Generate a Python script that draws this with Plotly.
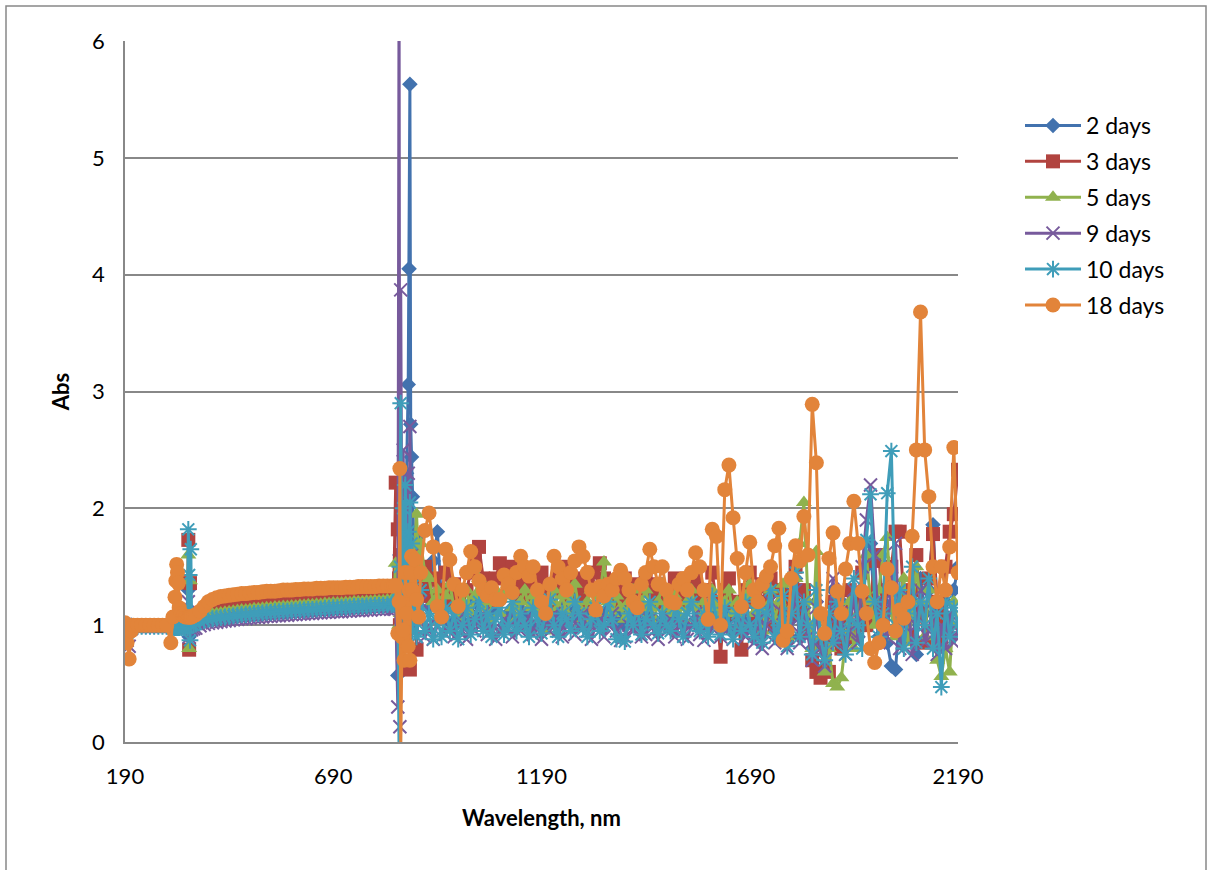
import plotly.graph_objects as go

# ---------------- wavelength grid (nm) ----------------
wl_uv = [190, 195, 200, 205, 210, 220, 230, 240, 250, 260, 270, 280, 290, 300]
wl_edge = [305, 310, 312, 314, 316, 318, 320, 325, 330, 335, 340, 342, 344, 346, 348, 350, 355]
wl_vis = [360, 370, 380, 390, 400, 410, 420, 430, 440, 450, 460, 470, 480, 490, 500, 510,
          520, 530, 540, 550, 560, 570, 580, 590, 600, 610, 620, 630, 640, 650, 660, 670,
          680, 690, 700, 710, 720, 730, 740, 750, 760, 770, 780, 790, 800, 810, 820]
wl_jump = [830, 835, 840, 845, 848, 850, 852, 855, 858, 860, 863, 866, 870, 872, 874, 876,
           878, 880, 885, 890, 895]
wl_nir = [900, 910, 920, 930, 940, 950, 960, 970, 980, 990,
          1000, 1010, 1020, 1030, 1040, 1050, 1060, 1070, 1080, 1090,
          1100, 1110, 1120, 1130, 1140, 1150, 1160, 1170, 1180, 1190,
          1200, 1210, 1220, 1230, 1240, 1250, 1260, 1270, 1280, 1290,
          1300, 1310, 1320, 1330, 1340, 1350, 1360, 1370, 1380, 1390,
          1400, 1410, 1420, 1430, 1440, 1450, 1460, 1470, 1480, 1490,
          1500, 1510, 1520, 1530, 1540, 1550, 1560, 1570, 1580, 1590,
          1600, 1610, 1620, 1630, 1640, 1650, 1660, 1670, 1680, 1690,
          1700, 1710, 1720, 1730, 1740, 1750, 1760, 1770, 1780, 1790,
          1800, 1810, 1820, 1830, 1840, 1850, 1860, 1870, 1880, 1890,
          1900, 1910, 1920, 1930, 1940, 1950, 1960, 1970, 1980, 1990,
          2000, 2010, 2020, 2030, 2040, 2050, 2060, 2070, 2080, 2090,
          2100, 2110, 2120, 2130, 2140, 2150, 2160, 2170, 2180, 2190]
wavelength = wl_uv + wl_edge + wl_vis + wl_jump + wl_nir

# ---------------- absorbance values ----------------
abs_2days = (
    [0.95, 0.9, 0.98, 1.0, 0.99, 0.99, 0.99, 0.99, 0.99, 0.99, 0.99, 0.99, 0.99, 0.99]
    + [0.98, 0.98, 0.98, 0.98, 0.98, 0.98, 0.98, 0.98, 0.98, 0.98, 0.98, 1.3, 0.9, 1.1, 0.99, 0.99, 0.99]
    + [1.0, 1.02, 1.03, 1.04, 1.045, 1.05, 1.055, 1.06, 1.065, 1.07, 1.075, 1.08, 1.08, 1.085, 1.09, 1.09,
       1.095, 1.10, 1.10, 1.105, 1.105, 1.11, 1.11, 1.115, 1.115, 1.12, 1.12, 1.125, 1.125, 1.13, 1.13, 1.135,
       1.135, 1.14, 1.14, 1.14, 1.145, 1.145, 1.15, 1.15, 1.15, 1.155, 1.155, 1.16, 1.16, 1.16, 1.165]
    + [1.165, 1.17, 1.17, 0.57, 1.3, 1.6, 1.25, 2.0, 1.4, 1.8, 1.2, 2.3, 3.06, 4.05, 5.63, 2.72,
       2.44, 2.1, 1.5, 1.75, 1.3]
    + [1.5, 1.3, 1.15, 1.55, 1.8, 1.2, 1.05, 1.2, 1.0, 1.1,
       1.15, 1.0, 1.1, 1.2, 1.05, 1.0, 1.15, 1.05, 1.1, 1.2,
       1.0, 1.1, 1.15, 1.05, 1.2, 1.1, 1.0, 1.15, 1.1, 1.0,
       1.05, 1.2, 1.1, 1.0, 1.15, 1.05, 1.1, 1.2, 1.05, 1.0,
       1.1, 1.15, 1.05, 1.0, 1.1, 1.2, 1.05, 1.0, 1.1, 1.0,
       1.15, 1.05, 1.2, 1.0, 1.1, 1.15, 1.05, 1.0, 1.15, 1.05,
       1.1, 1.2, 1.05, 1.0, 1.15, 1.2, 1.05, 1.0, 1.1, 0.98,
       1.2, 1.1, 1.0, 1.15, 1.05, 0.95, 1.1, 1.0, 1.2, 1.05,
       0.95, 1.2, 0.9, 1.05, 1.3, 0.95, 1.1, 1.3, 0.85, 1.05,
       1.4, 0.9, 1.15, 1.0, 0.8, 1.2, 0.85, 0.75, 1.05, 1.3,
       0.9, 1.2, 0.85, 1.0, 1.25, 0.9, 1.2, 1.5, 1.7, 1.1,
       0.9, 1.2, 0.85, 0.65, 0.62, 1.1, 1.3, 0.9, 1.2, 0.75,
       1.4, 1.1, 1.3, 1.86, 1.1, 0.85, 1.2, 1.0, 1.3, 1.5]
)

abs_3days = (
    [1.0, 0.95, 0.99, 1.0, 1.0, 1.0, 1.0, 1.0, 1.0, 1.0, 1.0, 1.0, 1.0, 1.0]
    + [1.0, 1.0, 1.0, 1.0, 1.0, 1.0, 1.0, 1.0, 1.0, 1.0, 1.0, 1.73, 0.79, 1.36, 1.05, 1.05, 1.06]
    + [1.08, 1.10, 1.11, 1.12, 1.125, 1.13, 1.135, 1.14, 1.145, 1.15, 1.155, 1.16, 1.16, 1.165, 1.17, 1.17,
       1.175, 1.18, 1.18, 1.185, 1.185, 1.19, 1.19, 1.195, 1.195, 1.20, 1.20, 1.205, 1.205, 1.21, 1.21, 1.215,
       1.215, 1.22, 1.22, 1.22, 1.225, 1.225, 1.23, 1.23, 1.23, 1.235, 1.235, 1.24, 1.24, 1.24, 1.245]
    + [1.245, 1.25, 2.22, 1.82, 1.4, 1.0, 1.6, 1.2, 0.85, 1.3, 1.1, 1.45, 1.2, 1.0, 0.62, 1.1,
       1.3, 1.5, 1.2, 0.79, 1.3]
    + [1.35, 1.5, 1.25, 1.4, 1.2, 1.3, 1.45, 1.2, 1.35, 1.25,
       1.15, 1.3, 1.45, 1.55, 1.67, 1.4, 1.3, 1.2, 1.4, 1.53,
       1.45, 1.3, 1.5, 1.35, 1.25, 1.4, 1.3, 1.2, 1.35, 1.45,
       1.25, 1.15, 1.3, 1.4, 1.5, 1.35, 1.25, 1.4, 1.3, 1.2,
       1.35, 1.45, 1.3, 1.53, 1.4, 1.25, 1.35, 1.2, 1.3, 1.4,
       1.25, 1.35, 1.2, 1.3, 1.4, 1.3, 1.2, 1.35, 1.25, 1.15,
       1.3, 1.4, 1.25, 1.35, 1.2, 1.3, 1.4, 1.25, 1.15, 1.3,
       1.45, 1.2, 0.73, 1.3, 1.4, 1.2, 1.1, 0.79, 1.3, 1.45,
       1.2, 1.1, 1.35, 1.2, 1.4, 1.0, 1.3, 1.15, 0.9, 1.25,
       1.5, 1.1, 1.3, 0.95, 0.7, 0.6, 0.55, 0.85, 0.6, 1.2,
       1.0, 0.8, 1.1, 1.3, 0.9, 1.2, 1.45, 1.0, 1.2, 1.55,
       1.6, 1.1, 1.3, 1.5, 1.8, 1.8, 1.2, 0.9, 1.3, 1.6,
       1.1, 0.85, 1.4, 1.78, 1.2, 0.9, 1.5, 1.8, 1.95, 2.33]
)

abs_5days = (
    [1.0, 0.96, 1.0, 1.0, 1.0, 1.0, 1.0, 1.0, 1.0, 1.0, 1.0, 1.0, 1.0, 1.0]
    + [1.0, 1.0, 1.0, 1.0, 1.0, 1.0, 1.0, 1.0, 1.0, 1.0, 1.0, 1.6, 0.8, 1.38, 1.03, 1.03, 1.04]
    + [1.05, 1.07, 1.08, 1.09, 1.095, 1.10, 1.105, 1.11, 1.115, 1.12, 1.125, 1.13, 1.13, 1.135, 1.14, 1.14,
       1.145, 1.15, 1.15, 1.155, 1.155, 1.16, 1.16, 1.165, 1.165, 1.17, 1.17, 1.175, 1.175, 1.18, 1.18, 1.185,
       1.185, 1.19, 1.19, 1.19, 1.195, 1.195, 1.20, 1.20, 1.20, 1.205, 1.205, 1.21, 1.21, 1.21, 1.215]
    + [1.215, 1.22, 1.53, 1.2, 1.0, 1.3, 1.1, 1.5, 1.0, 1.2, 1.35, 1.0, 1.25, 1.1, 1.4, 1.2,
       1.05, 1.3, 1.6, 1.95, 1.5]
    + [1.7, 1.45, 1.4, 1.2, 1.3, 1.1, 1.25, 1.35, 1.15, 1.05,
       1.2, 1.3, 1.1, 1.25, 1.4, 1.15, 1.05, 1.2, 1.3, 1.1,
       1.25, 1.35, 1.15, 1.05, 1.2, 1.3, 1.15, 1.25, 1.1, 1.0,
       0.95, 1.2, 1.3, 1.15, 1.25, 1.1, 1.2, 1.35, 1.15, 1.05,
       1.2, 1.3, 1.1, 1.25, 1.54, 1.2, 1.1, 1.25, 1.15, 1.05,
       1.2, 1.3, 1.1, 1.2, 1.3, 1.15, 1.05, 1.2, 1.35, 1.15,
       1.1, 1.25, 1.15, 1.05, 1.2, 1.3, 1.15, 1.05, 1.2, 1.1,
       1.3, 1.15, 1.0, 1.2, 1.3, 1.1, 1.2, 1.0, 1.25, 1.35,
       1.1, 1.2, 0.95, 1.15, 1.3, 1.05, 1.2, 1.35, 0.9, 1.15,
       1.4, 1.7, 2.05, 1.2, 0.8, 1.63, 0.9, 0.6, 0.8, 0.5,
       0.47, 0.55, 0.9, 1.2, 0.8, 1.1, 1.3, 1.6, 1.2, 1.0,
       1.3, 1.6, 1.75, 1.1, 0.9, 1.2, 1.4, 0.85, 1.1, 1.5,
       1.2, 0.9, 1.3, 1.0, 0.7, 0.56, 0.8, 0.6, 1.2, 1.0]
)

abs_9days = (
    [0.97, 0.87, 0.82, 0.97, 1.0, 0.99, 0.99, 0.99, 0.99, 0.99, 0.99, 0.99, 0.99, 0.99]
    + [0.98, 0.98, 0.98, 0.98, 0.98, 0.98, 0.98, 0.98, 0.98, 0.98, 0.98, 1.2, 0.9, 1.05, 0.97, 0.96, 0.97]
    + [0.975, 0.995, 1.005, 1.015, 1.02, 1.025, 1.03, 1.035, 1.04, 1.045, 1.05, 1.055, 1.055, 1.06, 1.065, 1.065,
       1.07, 1.075, 1.075, 1.08, 1.08, 1.085, 1.085, 1.09, 1.09, 1.095, 1.095, 1.10, 1.10, 1.105, 1.105, 1.11,
       1.11, 1.115, 1.115, 1.115, 1.12, 1.12, 1.125, 1.125, 1.125, 1.13, 1.13, 1.135, 1.135, 1.135, 1.14]
    + [1.14, 1.14, 1.14, 0.3, 6.6, 0.13, 3.87, 1.3, 2.5, 1.0, 1.8, 1.1, 2.3, 1.5, 2.7, 1.2,
       1.6, 1.0, 1.2, 0.9, 1.1]
    + [1.2, 0.9, 1.0, 0.88, 1.0, 1.1, 0.92, 1.0, 0.9, 1.05,
       0.95, 0.88, 1.05, 0.95, 1.0, 1.1, 0.92, 1.0, 0.88, 0.95,
       1.05, 0.97, 0.9, 1.05, 0.95, 1.0, 1.08, 0.92, 1.0, 0.88,
       1.05, 0.95, 1.1, 0.95, 0.9, 1.0, 1.05, 0.92, 1.0, 1.1,
       0.95, 0.88, 1.0, 1.05, 0.9, 1.0, 1.1, 0.95, 0.87, 0.9,
       1.0, 0.95, 1.05, 0.9, 0.92, 1.05, 0.95, 0.88, 1.0, 0.95,
       1.05, 0.9, 1.0, 0.95, 0.88, 1.0, 1.1, 0.92, 0.87, 0.9,
       1.0, 1.05, 0.9, 0.95, 1.0, 0.88, 0.95, 1.05, 0.9, 1.0,
       0.85, 1.05, 0.8, 1.0, 1.2, 0.85, 0.95, 1.1, 0.8, 1.0,
       1.3, 0.85, 1.1, 0.9, 0.7, 1.15, 0.8, 0.65, 1.0, 1.4,
       0.85, 1.1, 0.75, 0.95, 1.3, 0.85, 1.5, 1.9, 2.2, 1.6,
       0.85, 1.2, 0.9, 1.4, 1.7, 0.8, 1.0, 1.25, 0.75, 1.0,
       1.3, 0.85, 0.95, 1.2, 0.75, 1.0, 0.8, 1.1, 0.85, 0.95]
)

abs_10days = (
    [0.99, 0.93, 0.98, 0.99, 0.99, 0.99, 0.99, 0.99, 0.99, 0.99, 0.99, 0.99, 0.99, 0.99]
    + [0.98, 0.98, 0.98, 0.98, 0.98, 0.98, 0.98, 0.98, 0.98, 0.98, 0.98, 1.82, 1.43, 0.87, 1.65, 1.0, 1.0]
    + [1.01, 1.03, 1.04, 1.05, 1.055, 1.06, 1.065, 1.07, 1.075, 1.08, 1.085, 1.09, 1.09, 1.095, 1.10, 1.10,
       1.105, 1.11, 1.11, 1.115, 1.115, 1.12, 1.12, 1.125, 1.125, 1.13, 1.13, 1.135, 1.135, 1.14, 1.14, 1.145,
       1.145, 1.15, 1.15, 1.15, 1.155, 1.155, 1.16, 1.16, 1.16, 1.165, 1.165, 1.17, 1.17, 1.17, 1.175]
    + [1.175, 1.18, 1.18, 1.3, -0.1, 1.5, 2.9, 1.2, 2.0, 1.1, 2.2, 1.4, 1.8, 1.0, 2.05, 1.3,
       1.7, 0.95, 1.35, 0.9, 1.1]
    + [1.3, 0.95, 1.1, 0.88, 1.05, 0.9, 1.15, 0.95, 1.1, 0.88,
       1.0, 1.15, 0.92, 1.05, 1.2, 0.95, 1.1, 0.9, 1.05, 1.15,
       0.92, 1.0, 1.2, 0.95, 1.1, 1.0, 0.9, 1.15, 1.05, 0.93,
       1.1, 1.22, 1.0, 0.9, 1.1, 1.05, 0.95, 1.2, 1.1, 0.97,
       0.9, 1.05, 1.15, 0.95, 1.0, 1.2, 1.05, 0.88, 0.9, 0.86,
       1.1, 1.0, 1.15, 0.92, 1.05, 1.2, 1.0, 0.93, 1.1, 1.0,
       0.95, 1.15, 1.05, 0.9, 1.1, 1.2, 1.0, 0.95, 1.1, 0.9,
       1.25, 1.05, 0.92, 1.15, 1.0, 0.88, 1.1, 0.95, 1.2, 1.0,
       0.9, 1.15, 0.85, 1.1, 1.3, 0.9, 1.0, 1.25, 0.82, 1.1,
       1.45, 0.9, 1.2, 1.0, 0.75, 1.3, 0.9, 0.7, 1.1, 0.85,
       1.2, 0.95, 0.75, 1.05, 1.4, 1.0, 0.8, 1.73, 2.12, 1.2,
       0.9, 1.1, 2.13, 2.49, 1.0, 1.3, 0.8, 1.1, 1.5, 0.85,
       1.2, 1.0, 1.4, 0.8, 1.1, 0.47, 1.2, 0.9, 1.15, 1.0]
)

abs_18days = (
    [1.02, 0.85, 0.71, 0.95, 1.0, 1.0, 1.0, 1.0, 1.0, 1.0, 1.0, 1.0, 1.0, 0.85]
    + [1.07, 1.24, 1.38, 1.52, 1.45, 1.36, 1.15, 1.1, 1.08, 1.07, 1.07, 1.07, 1.07, 1.07, 1.07, 1.07, 1.08]
    + [1.09, 1.12, 1.16, 1.2, 1.22, 1.235, 1.245, 1.25, 1.255, 1.26, 1.265, 1.27, 1.27, 1.275, 1.28, 1.28,
       1.285, 1.29, 1.29, 1.29, 1.295, 1.30, 1.30, 1.30, 1.305, 1.305, 1.31, 1.31, 1.31, 1.315, 1.315, 1.315,
       1.32, 1.32, 1.32, 1.32, 1.325, 1.325, 1.325, 1.33, 1.33, 1.33, 1.33, 1.33, 1.335, 1.335, 1.335]
    + [1.335, 1.335, 1.34, 0.93, 1.2, 2.34, -0.1, 0.9, 0.96, 0.7, 1.45, 1.1, 0.82, 1.3, 0.7, 1.45,
       1.59, 1.3, 1.56, 1.22, 1.07]
    + [1.45, 1.81, 1.96, 1.67, 1.16, 1.07, 1.65, 1.56, 1.35, 1.16,
       1.3, 1.45, 1.63, 1.5, 1.38, 1.3, 1.25, 1.32, 1.22, 1.22,
       1.43, 1.35, 1.28, 1.45, 1.59, 1.5, 1.42, 1.5, 1.3, 1.2,
       1.1, 1.35, 1.59, 1.5, 1.4, 1.3, 1.45, 1.55, 1.67, 1.59,
       1.45, 1.3, 1.13, 1.33, 1.25, 1.35, 1.3, 1.4, 1.47, 1.4,
       1.3, 1.2, 1.15, 1.35, 1.45, 1.65, 1.5, 1.35, 1.5, 1.3,
       1.2, 1.19, 1.35, 1.4, 1.3, 1.45, 1.62, 1.5, 1.3, 1.05,
       1.82, 1.76, 1.0, 2.16, 2.37, 1.92, 1.57, 1.16, 1.45, 1.71,
       1.3, 1.2, 1.35, 1.42, 1.5, 1.68, 1.83, 0.87, 0.95, 1.4,
       1.68, 1.55, 1.93, 1.6, 2.89, 2.39, 1.1, 0.93, 1.57, 1.79,
       1.29, 1.1, 1.48, 1.7, 2.06, 1.7, 1.29, 1.1, 0.8, 0.68,
       0.85, 1.0, 1.48, 1.32, 0.95, 1.13, 1.06, 1.2, 1.76, 2.5,
       3.68, 2.5, 2.1, 1.5, 1.2, 1.5, 1.3, 1.67, 2.52, 1.45]
)

series_names = ["2 days", "3 days", "5 days", "9 days", "10 days", "18 days"]
series_values = [abs_2days, abs_3days, abs_5days, abs_9days, abs_10days, abs_18days]
for v in series_values:
    assert len(v) == len(wavelength), (len(v), len(wavelength))

x_ticks = [190, 690, 1190, 1690, 2190]
y_ticks = [0, 1, 2, 3, 4, 5, 6]

# ---------------- styles ----------------
colors = ["#4272AE", "#B1433F", "#90B24E", "#775A9C", "#3F9DB9", "#E2843A"]
symbols = ["diamond", "square", "triangle-up", "x-thin", "asterisk", "circle"]
sizes = [12, 14, 14, 13, 14, 15]

FONT = "Lato, 'Open Sans', 'DejaVu Sans', sans-serif"
GRID = "#888888"

fig = go.Figure()
for name, vals, col, sym, sz in zip(series_names, series_values, colors, symbols, sizes):
    thin = sym in ("x-thin", "asterisk")
    fig.add_trace(go.Scatter(
        x=wavelength, y=vals, name=name, legendgroup=name,
        mode="lines+markers",
        line=dict(color=col, width=3),
        marker=dict(symbol=sym, size=sz, color=col,
                    line=dict(color=col, width=2 if thin else 0)),
    ))

W, H = 1208, 870
L, R, T, B = 125, 250, 41, 128
pw, ph = W - L - R, H - T - B

def px(xp):
    return (xp - L) / pw

def py(yp):
    return (H - B - yp) / ph

fig.update_layout(
    width=W, height=H,
    margin=dict(l=L, r=R, t=T, b=B, autoexpand=False),
    paper_bgcolor="white", plot_bgcolor="white",
    font=dict(family=FONT, size=23, color="black"),
    showlegend=True,
    legend=dict(
        x=px(1020), y=py(104), xanchor="left", yanchor="top",
        font=dict(family=FONT, size=23, color="black"),
        traceorder="grouped", tracegroupgap=3,
        itemwidth=56, bgcolor="rgba(0,0,0,0)",
    ),
    xaxis=dict(
        range=[190, 2190], tickmode="array", tickvals=x_ticks,
        ticktext=[str(t) for t in x_ticks],
        showgrid=False, zeroline=False,
        showline=True, linecolor=GRID, linewidth=1.5,
        ticks="", ticklabelstandoff=14,
        tickfont=dict(family=FONT, size=22, color="black"),
        title=dict(text="<b>Wavelength, nm</b>", standoff=22,
                   font=dict(family=FONT, size=22, color="black")),
    ),
    yaxis=dict(
        range=[0, 6], tickmode="array", tickvals=y_ticks,
        showgrid=True, gridcolor=GRID, gridwidth=1.5, zeroline=False,
        showline=True, linecolor=GRID, linewidth=1.5,
        ticks="", ticklabelstandoff=14,
        tickfont=dict(family=FONT, size=22, color="black"),
        title=dict(text="<b>Abs</b>", standoff=16,
                   font=dict(family=FONT, size=22, color="black")),
    ),
    shapes=[dict(type="rect", xref="paper", yref="paper",
                 x0=px(6), x1=px(1206), y0=py(900), y1=py(6),
                 line=dict(color=GRID, width=1.5), fillcolor="rgba(0,0,0,0)",
                 layer="below")],
)

fig.write_html("out.html")
